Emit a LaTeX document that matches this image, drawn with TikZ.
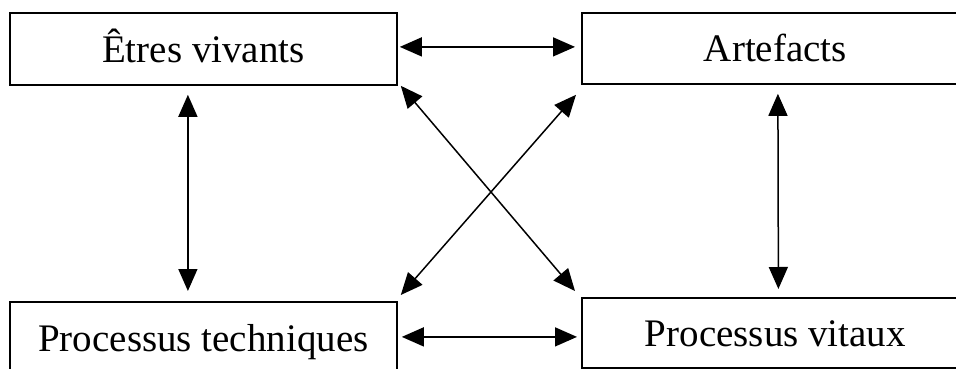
\documentclass[tikz,border=0pt]{standalone}
\usepackage{fontspec}
\setmainfont{Liberation Serif}
\usetikzlibrary{arrows.meta}
\begin{document}
\begin{tikzpicture}[x=1pt,y=-1pt,
  box/.style={draw, line width=1.8pt, inner sep=0pt, anchor=north west,
    minimum width=387pt, font=\fontsize{39}{39}\selectfont, align=center},
  biarrow/.style={line width=1.5pt,
    {Triangle[length=22pt,width=19pt]}-{Triangle[length=22pt,width=19pt]}}]
\useasboundingbox (0,0) rectangle (956,369);
\clip (0,0) rectangle (956,369);
\node[box, minimum height=72pt, text height=50pt, text depth=22pt] (ev) at (9,12) {Êtres vivants};
\node[box, minimum height=71pt, text height=49pt, text depth=22pt] (ar) at (581,12) {Artefacts};
\node[box, minimum height=72pt, text height=50pt, text depth=22pt] (pt) at (9,301) {Processus techniques};
\node[box, minimum height=70pt, text height=49pt, text depth=21pt] (pv) at (581,297) {Processus vitaux};
% horizontal
\draw[biarrow] ([shift={(2,-2)}]ev.east) -- ([shift={(-6,-1.5)}]ar.west);
\draw[biarrow] ([shift={(4,-1)}]pt.east) -- ([shift={(-4,4)}]pv.west);
% vertical
\draw[biarrow] ([shift={(-15.5,9)}]ev.south) -- ([shift={(-15.5,-10)}]pt.north);
\draw[biarrow] ([shift={(2.5,9)}]ar.south) -- ([shift={(3,-8)}]pv.north);
% diagonals
\draw[biarrow] ([shift={(3,0)}]ev.south east) -- ([shift={(-6,-6)}]pv.north west);
\draw[biarrow] ([shift={(-5,10)}]ar.south west) -- ([shift={(3,-6)}]pt.north east);
\end{tikzpicture}
\end{document}
